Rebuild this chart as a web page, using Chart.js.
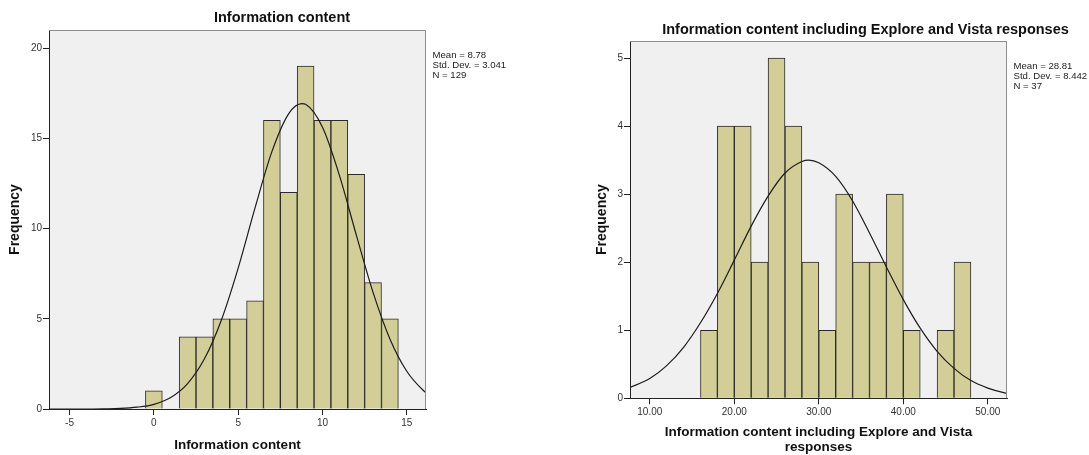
<!DOCTYPE html>
<html>
<head>
<meta charset="utf-8">
<title>Information content histograms</title>
<script src="https://cdn.jsdelivr.net/npm/chart.js@4.4.1/dist/chart.umd.min.js"></script>
<style>
  body { margin: 0; background: #fff; }
  .panel { position: absolute; top: 0; }
</style>
</head>
<body>
<canvas id="infoChart" class="panel" width="545" height="455" style="left:0"></canvas>
<canvas id="vistaChart" class="panel" width="544" height="455" style="left:545px"></canvas>
<script>
// left histogram: bin centres (width 1) and frequencies
const infoBins = [0, 1, 2, 3, 4, 5, 6, 7, 8, 9, 10, 11, 12, 13, 14];
const infoCounts = [1, 0, 4, 4, 5, 5, 6, 16, 12, 19, 16, 16, 13, 7, 5];
// normal curve
const infoCurveX = [-6.3, -5, -4, -3, -2, -1, 0, 1, 2, 3, 4, 5, 6, 7, 8, 8.78, 9, 10, 11, 12, 13, 14, 15, 16, 16.3];
const infoCurveY = [0, 0, 0, 0.01, 0.03, 0.1, 0.26, 0.64, 1.41, 2.78, 4.92, 7.81, 11.14, 14.26, 16.37, 16.92, 16.88, 15.61, 12.96, 9.66, 6.46, 3.88, 2.09, 1.01, 0.8];
const infoXTicks = [-5, 0, 5, 10, 15];
const infoYTicks = [0, 5, 10, 15, 20];
const infoStats = ["Mean = 8.78", "Std. Dev. = 3.041", "N = 129"];

// right histogram: bin centres (width 2) and frequencies
const vistaBins = [17, 19, 21, 23, 25, 27, 29, 31, 33, 35, 37, 39, 41, 43, 45, 47];
const vistaCounts = [1, 4, 4, 2, 5, 4, 2, 1, 3, 2, 2, 3, 1, 0, 1, 2];
const vistaCurveX = [7.5, 10, 12, 14, 16, 18, 20, 22, 24, 26, 28, 28.81, 30, 32, 34, 36, 38, 40, 42, 44, 46, 48, 50, 52, 52.5];
const vistaCurveY = [0.15, 0.29, 0.48, 0.75, 1.11, 1.54, 2.03, 2.53, 2.97, 3.31, 3.48, 3.5, 3.46, 3.26, 2.9, 2.43, 1.93, 1.45, 1.03, 0.69, 0.44, 0.26, 0.15, 0.08, 0.07];
const vistaXTicks = [10, 20, 30, 40, 50];
const vistaYTicks = [0, 1, 2, 3, 4, 5];
const vistaStats = ["Mean = 28.81", "Std. Dev. = 8.442", "N = 37"];

Chart.defaults.font.family = "'Liberation Sans', Arial, sans-serif";

// grey plot background, grey top/right frame, chart title and stats box
const spssFrame = {
  id: "spssFrame",
  beforeDraw(chart) {
    const { ctx, chartArea: a } = chart;
    ctx.save();
    ctx.fillStyle = "#f0f0f0";
    ctx.fillRect(a.left, a.top, a.right - a.left, a.bottom - a.top);
    ctx.restore();
  },
  afterDraw(chart, args, opts) {
    const { ctx, chartArea: a } = chart;
    ctx.save();
    ctx.strokeStyle = "#8c8c8c";
    ctx.lineWidth = 1;
    ctx.beginPath();
    ctx.moveTo(a.left, a.top + 0.5);
    ctx.lineTo(a.right - 0.5, a.top + 0.5);
    ctx.lineTo(a.right - 0.5, a.bottom);
    ctx.stroke();

    ctx.fillStyle = "#111";
    ctx.font = "bold 14.5px 'Liberation Sans', Arial, sans-serif";
    ctx.textAlign = "center";
    ctx.textBaseline = "middle";
    ctx.fillText(opts.title, opts.titleX, opts.titleY);

    ctx.fillStyle = "#222";
    ctx.font = "9.6px 'Liberation Sans', Arial, sans-serif";
    ctx.textAlign = "left";
    opts.stats.forEach((line, i) => {
      ctx.fillText(line, a.right + 6.5, a.top + 25 + i * 10.4);
    });
    ctx.restore();
  },
};

function makeHistogram(id, cfg) {
  const tickSetter = (values) => (scale) => {
    scale.ticks = values.map((v) => ({ value: v }));
  };
  return new Chart(document.getElementById(id), {
    type: "bar",
    data: {
      datasets: [
        {
          type: "line",
          data: cfg.curveX.map((x, i) => ({ x: x, y: cfg.curveY[i] })),
          borderColor: "#1c1c1c",
          borderWidth: 1.2,
          pointRadius: 0,
          fill: false,
          cubicInterpolationMode: "monotone",
          order: 1,
        },
        {
          type: "bar",
          data: cfg.bins.map((b, i) => ({ x: b, y: cfg.counts[i] })),
          backgroundColor: "#d3ce98",
          borderColor: "#2b2b2b",
          borderWidth: 1,
          barPercentage: 1,
          categoryPercentage: 1,
          order: 2,
        },
      ],
    },
    options: {
      responsive: false,
      animation: false,
      layout: { padding: cfg.padding },
      plugins: {
        legend: { display: false },
        tooltip: { enabled: false },
        spssFrame: {
          title: cfg.title,
          titleX: cfg.titleX,
          titleY: cfg.titleY,
          stats: cfg.stats,
        },
      },
      scales: {
        x: {
          type: "linear",
          min: cfg.xMin,
          max: cfg.xMax,
          offset: false,
          z: 1,
          afterBuildTicks: tickSetter(cfg.xTicks),
          afterFit: (scale) => {
            scale.height = cfg.xHeight;
          },
          grid: { offset: false, drawOnChartArea: false, drawTicks: true, tickLength: 6, color: "#222" },
          border: { display: true, color: "#222" },
          ticks: {
            color: "#333",
            font: { size: 10 },
            padding: 2,
            maxRotation: 0,
            autoSkip: false,
            callback: cfg.xFormat,
          },
          title: {
            display: true,
            text: cfg.xTitle,
            color: "#111",
            font: { size: 13.5, weight: "bold", lineHeight: cfg.xTitleLine },
            padding: { top: 0, bottom: cfg.xTitlePad },
          },
        },
        y: {
          min: 0,
          max: cfg.yMax,
          z: 1,
          afterBuildTicks: tickSetter(cfg.yTicks),
          afterFit: (scale) => {
            scale.width = cfg.yWidth;
          },
          grid: { drawOnChartArea: false, drawTicks: true, tickLength: 6, color: "#222" },
          border: { display: true, color: "#222" },
          ticks: { color: "#333", font: { size: 10 }, padding: 1 },
          title: {
            display: true,
            text: "Frequency",
            color: "#111",
            font: { size: 14, weight: "bold" },
            padding: { top: 7, bottom: 0 },
          },
        },
      },
    },
    plugins: [spssFrame],
  });
}

makeHistogram("infoChart", {
  bins: infoBins,
  counts: infoCounts,
  curveX: infoCurveX,
  curveY: infoCurveY,
  xTicks: infoXTicks,
  yTicks: infoYTicks,
  stats: infoStats,
  xMin: -6.22,
  xMax: 16.14,
  yMax: 21,
  xFormat: (v) => String(v),
  xTitle: "Information content",
  xTitleLine: 1.2,
  xTitlePad: 2,
  xHeight: 46,
  yWidth: 49,
  padding: { left: 0, right: 119, top: 30, bottom: 0 },
  title: "Information content",
  titleX: 282,
  titleY: 17.5,
});

makeHistogram("vistaChart", {
  bins: vistaBins,
  counts: vistaCounts,
  curveX: vistaCurveX,
  curveY: vistaCurveY,
  xTicks: vistaXTicks,
  yTicks: vistaYTicks,
  stats: vistaStats,
  xMin: 7.66,
  xMax: 52.27,
  yMax: 5.25,
  xFormat: (v) => Number(v).toFixed(2),
  xTitle: ["Information content including Explore and Vista", "responses"],
  xTitleLine: 1.11,
  xTitlePad: 0.5,
  xHeight: 56.7,
  yWidth: 43,
  padding: { left: 42, right: 82, top: 41, bottom: 0 },
  title: "Information content including Explore and Vista responses",
  titleX: 320.5,
  titleY: 29.5,
});
</script>
</body>
</html>
